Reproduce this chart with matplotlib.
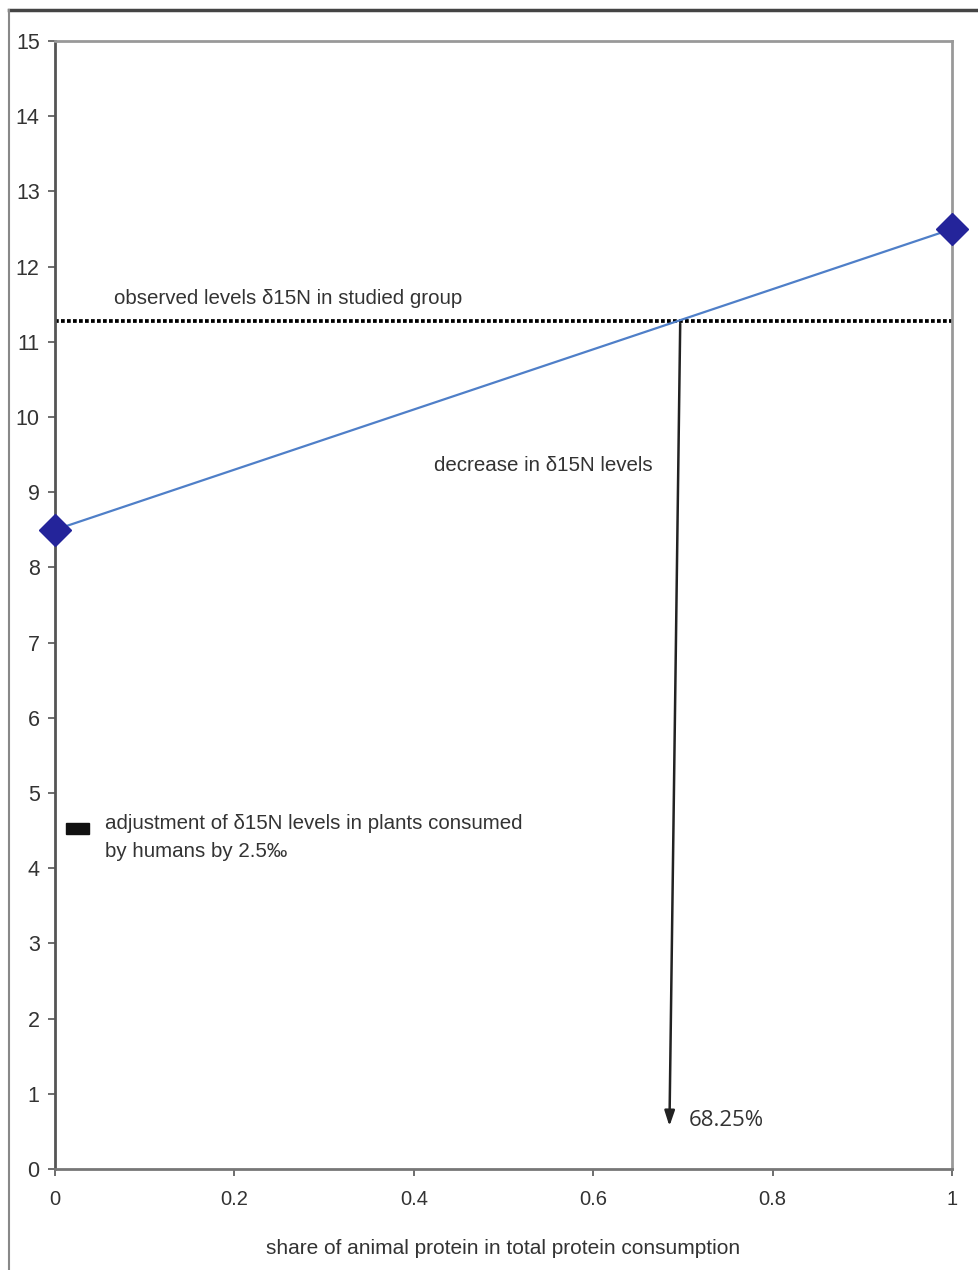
import matplotlib
matplotlib.use('Agg')
import matplotlib.pyplot as plt
from matplotlib.lines import Line2D
from matplotlib.patches import Rectangle

# --- data ---
share = [0.0, 1.0]                 # share of animal protein
d15n = [8.5, 12.5]                 # delta 15N levels
observed_level = 11.28             # observed level in studied group
arrow_start = (0.697, 11.24)
arrow_end = (0.685, 0.57)
result_label = '68.25%'

x_ticks = [0, 0.2, 0.4, 0.6, 0.8, 1]
x_tick_labels = ['0', '0.2', '0.4', '0.6', '0.8', '1']
y_ticks = list(range(0, 16))

plt.rcParams['font.family'] = ['Liberation Sans', 'DejaVu Sans']

fig = plt.figure(figsize=(9.79, 12.70), dpi=100)
ax = fig.add_axes([0.0562, 0.0795, 0.9162, 0.8882])

# figure frame (top and left only visible in the reference)
fig.add_artist(Line2D([0.0092, 1.0], [0.992, 0.992], transform=fig.transFigure,
                      color='#444444', lw=2.5))
fig.add_artist(Line2D([0.0092, 0.0092], [0.0, 0.992], transform=fig.transFigure,
                      color='#888888', lw=1.5))

# observed level (dotted)
ax.plot([0, 1], [observed_level, observed_level], color='black',
        linestyle=(0, (1, 0.6)), lw=2.7, zorder=2)

# model line with diamonds
ax.plot(share, d15n, color='#4f7fc8', lw=1.6, zorder=3)
ax.plot(share, d15n, linestyle='none', marker='D', markersize=16,
        color='#24249a', markeredgecolor='#24249a', clip_on=False, zorder=5)

# arrow down to the result
ax.annotate('', xy=arrow_end, xytext=arrow_start,
            arrowprops=dict(arrowstyle='-|>,head_length=0.9,head_width=0.3',
                            color='#222222', lw=1.8, shrinkA=0, shrinkB=0))

ax.text(0.707, 0.64, result_label, family=['Open Sans', 'DejaVu Sans'],
        fontsize=16, color='#333333', ha='left', va='center')
ax.text(0.066, 11.57, 'observed levels δ15N in studied group', fontsize=14.8,
        color='#333333', ha='left', va='center')
ax.text(0.422, 9.36, 'decrease in δ15N levels', fontsize=14.8,
        color='#333333', ha='left', va='center')

# legend-like key
ax.add_patch(Rectangle((0.0123, 4.45), 0.0257, 0.15, color='#111111',
                       clip_on=False, zorder=4))
ax.text(0.056, 4.41, 'adjustment of δ15N levels in plants consumed\nby humans by 2.5‰',
        fontsize=14.8, color='#333333', ha='left', va='center', linespacing=1.65)

ax.set_xlim(0, 1)
ax.set_ylim(0, 15)
ax.set_xticks(x_ticks)
ax.set_xticklabels(x_tick_labels)
ax.set_yticks(y_ticks)
ax.tick_params(axis='y', direction='out', length=5, width=1.2, color='#555555',
               labelsize=15.5, labelcolor='#333333', pad=6)
ax.tick_params(axis='x', direction='out', length=5, width=1.2, color='#555555',
               labelsize=14.5, labelcolor='#333333', pad=10)

ax.set_xlabel('share of animal protein in total protein consumption', fontsize=15,
              color='#333333', labelpad=22)

ax.spines['left'].set_color('#555555')
ax.spines['left'].set_linewidth(2)
ax.spines['bottom'].set_color('#777777')
ax.spines['bottom'].set_linewidth(2)
ax.spines['top'].set_color('#999999')
ax.spines['top'].set_linewidth(2)
ax.spines['right'].set_color('#999999')
ax.spines['right'].set_linewidth(2)

fig.savefig('out.png', dpi=100)
